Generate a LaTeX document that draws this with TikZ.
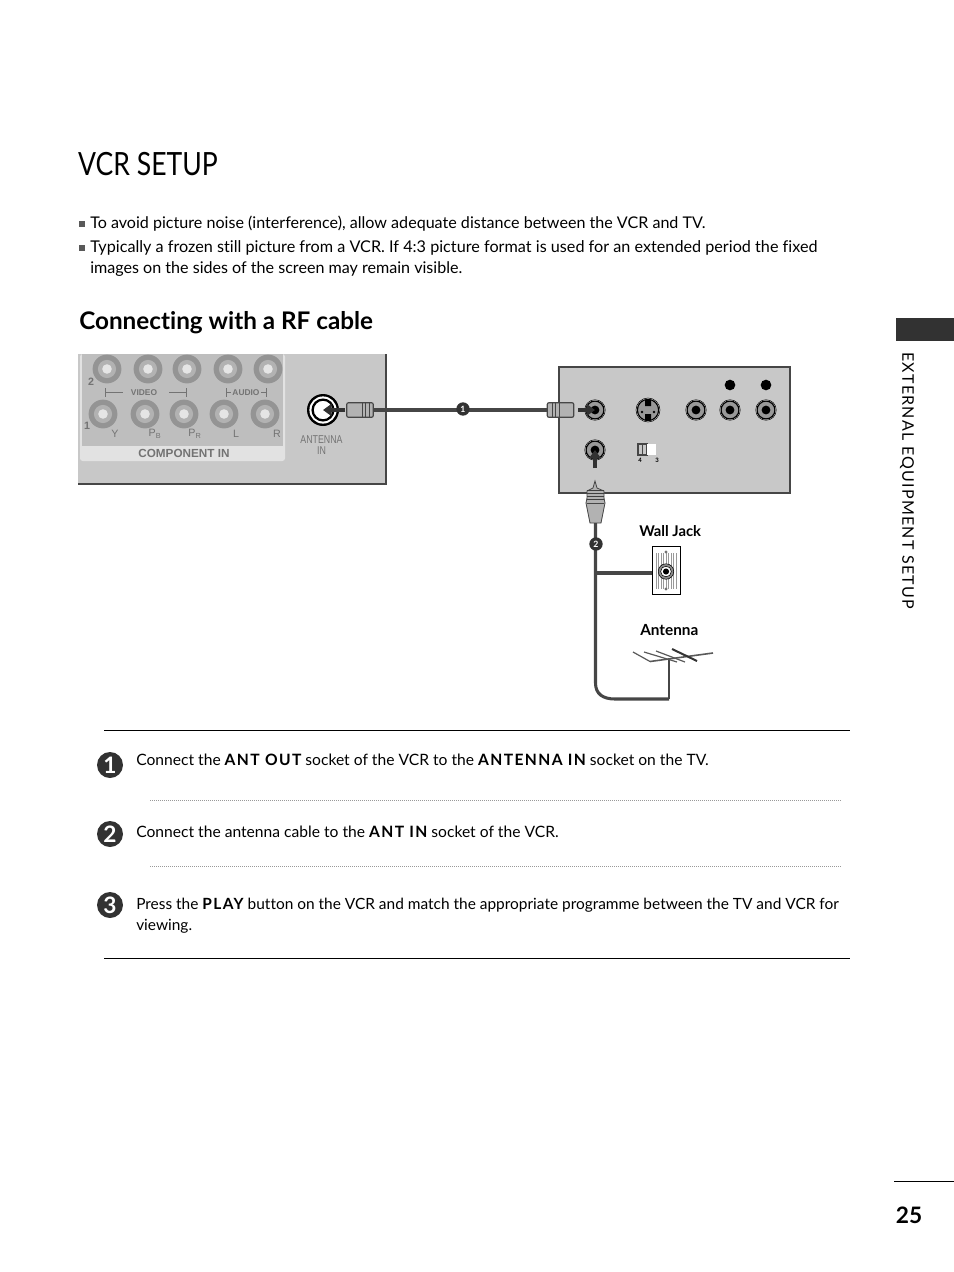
\documentclass[tikz,border=0pt]{standalone}
\usepackage{fontspec}
\setmainfont{Lato}[Ligatures=NoCommon]
\newfontfamily\panelfont{Liberation Sans}
\usetikzlibrary{arrows.meta,positioning}
\definecolor{panelgray}{RGB}{200,200,200}
\definecolor{innergray}{RGB}{190,190,190}
\definecolor{stripgray}{RGB}{226,226,226}
\definecolor{edgegray}{RGB}{70,70,70}
\definecolor{inkgray}{RGB}{50,50,50}
\definecolor{labelgray}{RGB}{115,115,115}
\newcommand{\kw}[1]{{\bfseries\addfontfeature{LetterSpace=9}#1}}
\begin{document}
\begin{tikzpicture}[x=0.75pt,y=-0.75pt,
  txt/.style={anchor=base west,inner sep=0pt,font=\fontsize{12.07}{14}\selectfont},
  steptxt/.style={anchor=base west,inner sep=0pt,font=\fontsize{11.72}{14}\selectfont},
  lbl/.style={inner sep=0pt,font=\panelfont\fontsize{8}{9}\selectfont,text=labelgray},
  boldlbl/.style={inner sep=0pt,font=\panelfont\bfseries\fontsize{6.3}{8}\selectfont,text=labelgray},
  tag/.style={inner sep=0pt,anchor=base west,font=\bfseries\fontsize{11.1}{14}\selectfont},
  stepbadge/.style={circle,fill=inkgray,text=white,minimum size=19.5pt,inner sep=0pt,font=\bfseries\fontsize{17}{17}\selectfont},
  cablebadge/.style={circle,fill=inkgray,text=white,minimum size=10pt,inner sep=0pt,font=\bfseries\fontsize{6.5}{6.5}\selectfont},
  plug/.style={minimum width=20pt,minimum height=11pt,inner sep=0pt,fill=black!30,draw=edgegray,line width=0.9pt,rounded corners=1.5pt},
  marker/.style={fill=black!65,minimum size=4pt,inner sep=0pt},
  cable/.style={draw=edgegray,line width=2.3pt},
  arr/.style={-{Triangle[length=6.5pt,width=9pt]},draw=inkgray,line width=3.2pt},
  rule/.style={draw=black,line width=0.75pt},
  dotrule/.style={draw=black!40,line width=0.5pt,dash pattern=on 0.6pt off 0.9pt}]
\useasboundingbox (0,0) rectangle (954,1272);
% headings
\node[anchor=base west,inner sep=0pt,xscale=0.83,font=\fontsize{24}{28}\selectfont] (title) at (78,175) {VCR SETUP};
\node[txt] (b1) at (90,228) {To avoid picture noise (interference), allow adequate distance between the VCR and TV.};
\node[txt,font=\fontsize{12.15}{14}\selectfont] (b2) at (90,252) {Typically a frozen still picture from a VCR. If 4:3 picture format is used for an extended period the fixed};
\node[txt] (b2b) at (90,273) {images on the sides of the screen may remain visible.};
\node[marker] (m1) at (82,224) {};
\node[marker] (m2) at (82,248) {};
\node[anchor=base west,inner sep=0pt,font=\bfseries\fontsize{18.2}{22}\selectfont] (sub) at (79,329) {Connecting with a RF cable};
% side tab
\node[fill=inkgray,minimum width=43.5pt,minimum height=17pt,inner sep=0pt] (tab) at (925,329.5) {};
\node[rotate=-90,inner sep=0pt,font=\fontsize{12}{14}\selectfont\addfontfeature{LetterSpace=8}] (side) at (907,480.5) {EXTERNAL EQUIPMENT SETUP};
\draw[rule] (894,1181) -- (954,1181);
\node[inner sep=0pt,font=\bfseries\fontsize{17}{20}\selectfont] (page) at (909,1215) {25};
% rear panel
\fill[panelgray] (78,354) rectangle (386,484);
\draw[edgegray,line width=1.1pt] (386,354) -- (386,484) -- (78,484);
\fill[stripgray,rounded corners=2pt] (80,354) rectangle (285,461);
\fill[innergray] (82,354) rectangle (283,446);
\foreach \x/\y in {107/369,148/369,187/369,228/369,268/369,103/414,145/414,184/414,224/414,265/414} {
  \fill[black!42] (\x,\y) circle (10.8pt);
  \fill[black!30] (\x,\y) circle (6.8pt);
  \fill[white!90!black] (\x,\y) circle (3.6pt);
}
\node[boldlbl,font=\panelfont\bfseries\fontsize{8}{9}\selectfont] (n2) at (91,382) {2};
\node[boldlbl,font=\panelfont\bfseries\fontsize{8}{9}\selectfont] (n1) at (87,426) {1};
\node[boldlbl] (video) at (144,392.5) {VIDEO};
\node[boldlbl] (audio) at (246,392.5) {AUDIO};
\draw[labelgray,line width=0.5pt] (105,388) -- (105,397) (105,392.5) -- (123,392.5) (169,392.5) -- (186,392.5) (186,388) -- (186,397);
\draw[labelgray,line width=0.5pt] (226,388) -- (226,397) (226,392.5) -- (231,392.5) (261,392.5) -- (266,392.5) (266,388) -- (266,397);
\node[lbl] (y) at (115,434) {Y};
\node[lbl] (pb) at (155,434) {P\textsubscript{\fontsize{5.5}{5}\selectfont B}};
\node[lbl] (pr) at (195,434) {P\textsubscript{\fontsize{5.5}{5}\selectfont R}};
\node[lbl] (l) at (236,434) {L};
\node[lbl] (r) at (277,434) {R};
\node[boldlbl,font=\panelfont\bfseries\fontsize{8.8}{10}\selectfont] (comp) at (184,453) {COMPONENT IN};
\coordinate (antjackin) at (323,410);
\fill[black] (antjackin) circle (12pt);
\fill[white] (antjackin) circle (10.2pt);
\draw[black,line width=1.7pt] (antjackin) circle (7.8pt);
\fill[white] (antjackin) circle (5pt);
\node[lbl,align=center,xscale=0.78,font=\panelfont\fontsize{8.5}{8.3}\selectfont] (antin) at (321.5,445.5) {ANTENNA\\IN};
% cable 1
\node[plug] (plugtv) at (360,410) {};
\draw[edgegray,line width=0.6pt] (362,403) -- (362,417) (365,403) -- (365,417) (369,403) -- (369,417);
\draw[arr] (345,410) -- (antjackin);
\draw[cable] (plugtv) -- (547,410);
\node[cablebadge] (cb1) at (463,409) {1};
% vcr panel
\draw[draw=edgegray,fill=panelgray,line width=1.1pt] (559,367) rectangle (790,493);
\node[plug] (plugvcr) at (560.5,410) {};
\draw[edgegray,line width=0.6pt] (552,403) -- (552,417) (555,403) -- (555,417) (559,403) -- (559,417);
\foreach \x/\y/\name in {595/410/antout,696/410/ja,730/410/jb,766/410/jc,595/450/antjack} {
  \draw[black,line width=0.4pt,fill=white] (\x,\y) circle (7.7pt);
  \draw[black,line width=0.9pt,fill=black!40] (\x,\y) circle (6.7pt);
  \fill[black] (\x,\y) circle (3.3pt);
  \coordinate (\name) at (\x,\y);
}
\draw[black,line width=0.4pt,fill=white] (648,410) circle (9pt);
\draw[black,line width=0.9pt,fill=black!40] (648,410) circle (8pt);
\fill[black] (645,400) rectangle (651,406) (645,414) rectangle (651,420);
\foreach \x in {642,654} \fill[black] (\x,412) circle (1pt);
\fill[black] (730,385) circle (4pt);
\fill[black] (766,385) circle (4pt);
\draw[edgegray,fill=panelgray,line width=0.9pt] (638,444) rectangle (647,455);
\draw[edgegray,line width=0.6pt] (642.5,444) -- (642.5,455);
\fill[white] (647,444) rectangle (656,455);
\node[inner sep=0pt,font=\bfseries\fontsize{4.5}{4}\selectfont] (sw4) at (640,460) {4};
\node[inner sep=0pt,font=\bfseries\fontsize{4.5}{4}\selectfont] (sw3) at (657,460) {3};
\draw[arr] (578,410) -- (antout);
\draw[arr] (595,468) -- (antjack);
% cable 2
\coordinate (plugant) at (595.5,523);
\coordinate (bend) at (669,699);
\coordinate (boom) at (669,660);
\filldraw[fill=black!30,draw=edgegray,line width=0.6pt] (595,481) -- (597,488) -- (604,491) -- (604,498) -- (605,503) -- (601,523) -- (590,523) -- (586,503) -- (587,498) -- (587,491) -- (593,488) -- cycle;
\foreach \y in {490,493,496,499} \draw[black!75,line width=0.5pt] (587,\y) -- (604,\y);
\draw[edgegray,line width=0.5pt] (587,503) -- (604,503);
\draw[cable] (plugant) -- (595.5,683) .. controls (595.5,694) and (603,699) .. (615,699) -- (bend);
\draw[edgegray,line width=1.5pt] (bend) -- (boom);
\node[cablebadge] (cb2) at (596,544) {2};
\node[tag] (walltag) at (639,536) {Wall Jack};
\node[tag,font=\bfseries\fontsize{11.5}{14}\selectfont] (anttag) at (640,635) {Antenna};
\node[draw=black,line width=0.9pt,fill=white,minimum width=21.5pt,minimum height=35.5pt,inner sep=0pt] (wall) at (666.5,570.5) {};
\coordinate (branch) at (596,573);
\draw[cable,line width=2.7pt] (branch) -- (wall.west |- branch);
\foreach \x in {656,658.5,661,663.5,666,668.5,671,673.5,676} \draw[black!40,line width=0.3pt] (\x,553) -- (\x,589);
\fill[black!55] (666,552) circle (1.2pt) (666,589) circle (1.2pt);
\draw[black,fill=black!45,line width=0.4pt] (666,571.5) circle (5.8pt);
\draw[black,fill=white,line width=0.4pt] (666,571.5) circle (4pt);
\fill[black] (666,571.5) circle (2.3pt);
% antenna
\draw[black!65,line width=1.2pt] (650,661.5) -- (713,653);
\draw[black!65,line width=0.9pt] (633,652) -- (650,661.5) (644,652) -- (677,662) (656,651) -- (685,662);
\draw[black!80,line width=1.5pt] (672,649) -- (697,661);
% steps
\draw[rule] (104,730) -- (850,730);
\draw[rule] (104,958) -- (850,958);
\draw[dotrule] (150,800) -- (841,800);
\draw[dotrule] (150,866) -- (841,866);
\node[stepbadge] (s1) at (110,765) {1};
\node[stepbadge] (s2) at (110,834) {2};
\node[stepbadge] (s3) at (110,905) {3};
\node[steptxt] (t1) at (136,765) {Connect the \kw{ANT OUT} socket of the VCR to the \kw{ANTENNA IN} socket on the TV.};
\node[steptxt] (t2) at (136,837) {Connect the antenna cable to the \kw{ANT IN} socket of the VCR.};
\node[steptxt,font=\fontsize{11.58}{14}\selectfont] (t3) at (136,909) {Press the \kw{PLAY} button on the VCR and match the appropriate programme between the TV and VCR for};
\node[steptxt,font=\fontsize{11.58}{14}\selectfont] (t3b) at (136,930) {viewing.};
\end{tikzpicture}
\end{document}
